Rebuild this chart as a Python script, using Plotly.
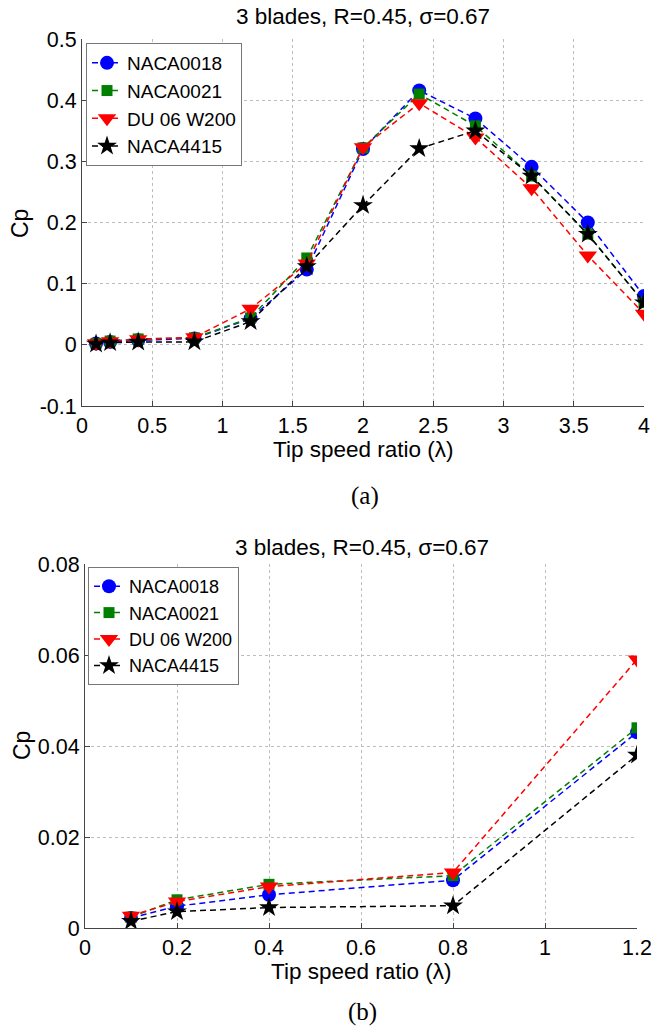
import plotly.graph_objects as go

# ---------------- data ----------------
tsr = [0.1, 0.2, 0.4, 0.8, 1.2, 1.6, 2.0, 2.4, 2.8, 3.2, 3.6, 4.0]
naca0018 = [0.0022, 0.0048, 0.0073, 0.0105, 0.043, 0.123, 0.320, 0.416, 0.370, 0.291, 0.200, 0.080]
naca0021 = [0.0024, 0.0062, 0.0096, 0.0115, 0.044, 0.142, 0.322, 0.410, 0.358, 0.276, 0.181, 0.069]
du06w200 = [0.0027, 0.0058, 0.0091, 0.0122, 0.059, 0.133, 0.323, 0.395, 0.339, 0.256, 0.146, 0.051]
naca4415 = [0.0015, 0.0036, 0.0045, 0.0049, 0.038, 0.128, 0.228, 0.321, 0.350, 0.276, 0.181, 0.069]
series_names = ["NACA0018", "NACA0021", "DU 06 W200", "NACA4415"]

n_zoom = 5  # points with tsr <= 1.2 shown in panel (b)

top_xticks = [0, 0.5, 1, 1.5, 2, 2.5, 3, 3.5, 4]
top_xtext = ["0", "0.5", "1", "1.5", "2", "2.5", "3", "3.5", "4"]
top_yticks = [-0.1, 0, 0.1, 0.2, 0.3, 0.4, 0.5]
top_ytext = ["-0.1", "0", "0.1", "0.2", "0.3", "0.4", "0.5"]
bot_xticks = [0, 0.2, 0.4, 0.6, 0.8, 1.0, 1.2]
bot_xtext = ["0", "0.2", "0.4", "0.6", "0.8", "1", "1.2"]
bot_yticks = [0, 0.02, 0.04, 0.06, 0.08]
bot_ytext = ["0", "0.02", "0.04", "0.06", "0.08"]

title_text = "3 blades, R=0.45, σ=0.67"
xlabel = "Tip speed ratio (λ)"
ylabel = "Cp"

# ---------------- styles ----------------
W, H = 655, 1034
FONT = "Liberation Sans, Arial, sans-serif"
styles = [
    dict(color="#0000ff", symbol="circle", size=14),
    dict(color="#008000", symbol="square", size=11),
    dict(color="#ff0000", symbol="triangle-down", size=16),
    dict(color="#000000", symbol="star", size=15),
]
values = [naca0018, naca0021, du06w200, naca4415]

fig = go.Figure()

for name, vals, st in zip(series_names, values, styles):
    fig.add_trace(go.Scatter(
        x=tsr, y=vals, name=name, mode="lines+markers",
        line=dict(color=st["color"], width=1.5, dash="6px,4px"),
        marker=dict(color=st["color"], symbol=st["symbol"], size=st["size"],
                    line=dict(width=0)),
        xaxis="x", yaxis="y", legend="legend",
    ))
for name, vals, st in zip(series_names, values, styles):
    fig.add_trace(go.Scatter(
        x=tsr[:n_zoom], y=vals[:n_zoom], name=name, mode="lines+markers",
        line=dict(color=st["color"], width=1.5, dash="6px,4px"),
        marker=dict(color=st["color"], symbol=st["symbol"], size=st["size"],
                    line=dict(width=0)),
        xaxis="x2", yaxis="y2", legend="legend2",
    ))

def px_x(p):
    return p / W

def px_y(p):
    return 1 - p / H

axis_common = dict(
    showline=True, linecolor="#444444", linewidth=1, mirror=False,
    ticks="inside", ticklen=5, tickcolor="#444444",
    showgrid=True, gridcolor="#bdbdbd", gridwidth=1, griddash="dot",
    zeroline=False, tickfont=dict(family=FONT, size=21.5, color="black"),
    tickmode="array", automargin=False,
)

fig.update_layout(
    width=W, height=H,
    margin=dict(l=0, r=0, t=0, b=0, autoexpand=False),
    paper_bgcolor="white", plot_bgcolor="white",
    font=dict(family=FONT, color="black"),
    xaxis=dict(axis_common, domain=[px_x(82), px_x(644)], range=[0, 4],
               tickvals=top_xticks, ticktext=top_xtext, anchor="y"),
    yaxis=dict(axis_common, domain=[px_y(406), px_y(39)], range=[-0.1, 0.5],
               tickvals=top_yticks, ticktext=top_ytext, anchor="x"),
    xaxis2=dict(axis_common, domain=[px_x(85), px_x(637)], range=[0, 1.2],
                tickvals=bot_xticks, ticktext=bot_xtext, anchor="y2"),
    yaxis2=dict(axis_common, domain=[px_y(928), px_y(564)], range=[0, 0.08],
                tickvals=bot_yticks, ticktext=bot_ytext, anchor="x2"),
    legend=dict(x=px_x(86), y=px_y(43), xanchor="left", yanchor="top",
                bgcolor="white", bordercolor="#777777", borderwidth=1,
                font=dict(family=FONT, size=19, color="black"),
                tracegroupgap=0, itemwidth=30),
    legend2=dict(x=px_x(88), y=px_y(567), xanchor="left", yanchor="top",
                 bgcolor="white", bordercolor="#777777", borderwidth=1,
                 font=dict(family=FONT, size=18, color="black"),
                 tracegroupgap=0, itemwidth=30),
    showlegend=True,
)

def label(text, x, y, size, family=FONT, angle=0):
    return dict(text=text, x=px_x(x), y=px_y(y), xref="paper", yref="paper",
                xanchor="center", yanchor="middle", showarrow=False,
                textangle=angle, font=dict(family=family, size=size, color="black"))

ann = [
    label(title_text, 363, 16, 22.5),
    label(title_text, 362, 547, 22.5),
    label(xlabel, 363, 449, 22.5),
    label(xlabel, 361, 971, 22.5),
    label(ylabel, 20, 224, 23, angle=-90),
    label(ylabel, 22, 746, 23, angle=-90),
    label("(a)", 365, 496, 25, family="Liberation Serif, serif"),
    label("(b)", 362, 1012, 25, family="Liberation Serif, serif"),
]
fig.update_layout(annotations=ann)

# remove the default 8px page margin so the figure fills the window exactly
fig.write_html("out.html", config={"displayModeBar": False},
               post_script="document.body.style.margin='0';")
